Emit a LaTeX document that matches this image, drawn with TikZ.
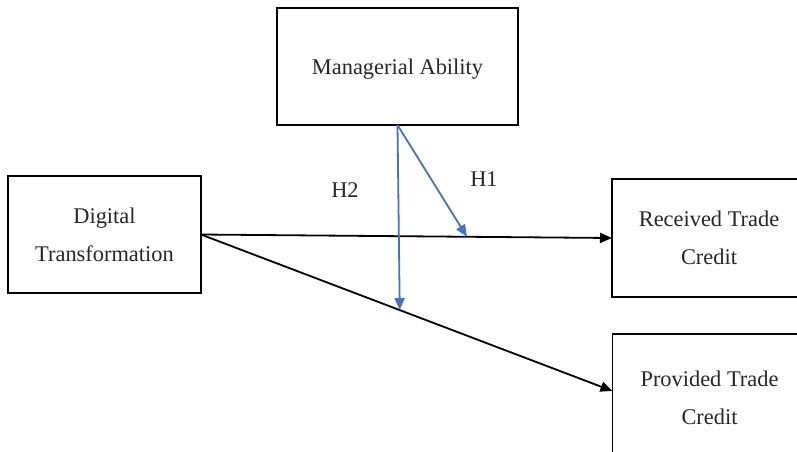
\documentclass[tikz,border=0pt]{standalone}
\usepackage{fontspec}
\setmainfont{Liberation Serif}
\usetikzlibrary{arrows.meta}
\definecolor{hblue}{HTML}{4472C4}

\begin{document}
\begin{tikzpicture}[x=1pt, y=1pt, line width=1.8pt,
    font=\fontsize{22.4}{38}\selectfont]

\tikzstyle{var}   = [rectangle, draw, inner sep=0pt, outer sep=0pt,
                     align=center, text=black!85, text depth=0pt]
\tikzstyle{path}  = [-{Triangle[length=12pt,width=10pt]}]
\tikzstyle{mod}   = [hblue, -{Triangle[length=12pt,width=10pt]}]

\useasboundingbox (0,0) rectangle (797,-451);

% ── Variables ─────────────────────────────────────────
\node[var, minimum width=241, minimum height=117] (ma)  at (397.5,-66.5) {Managerial Ability};
\node[var, minimum width=193, minimum height=117] (dt)  at (104.5,-234.5) {Digital\\Transformation};
\node[var, minimum width=194, minimum height=118] (rtc) at (709,-238)    {Received Trade\\Credit};
\node[var, minimum width=194, minimum height=128] (ptc) at (709.5,-398)  {Provided Trade\\Credit};

% ── Direct effects ───────────────────────────────────
\draw[path] (dt.east) -- coordinate[pos=0.647] (h1) (rtc.west);
\draw[path] (dt.east) -- coordinate[pos=0.483] (h2) ([yshift=7]ptc.west);

% ── Moderating effects ───────────────────────────────
\draw[mod] (ma.south) -- (h1);
\draw[mod] (ma.south) -- (h2);

\node[text=black!85] (lab1) at (484,-179) {H1};
\node[text=black!85] (lab2) at (345,-190) {H2};

\end{tikzpicture}
\end{document}
